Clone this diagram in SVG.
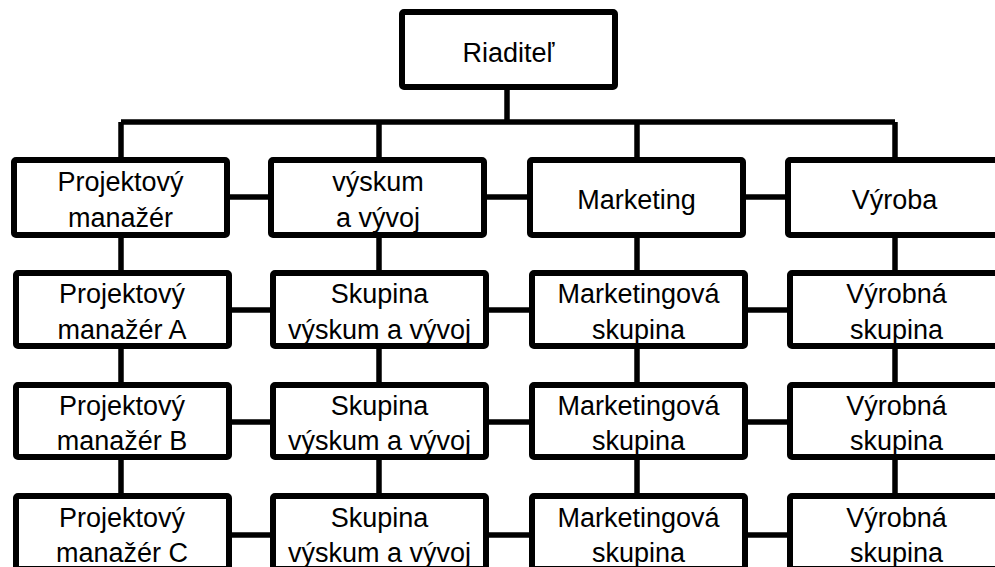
<svg xmlns="http://www.w3.org/2000/svg" width="995" height="567" viewBox="0 0 995 567">
<style>
.box{fill:#fff;stroke:#000;stroke-width:6}
.ln{stroke:#000;stroke-width:5.5;fill:none}
text{font-family:"Liberation Sans",Arial,sans-serif;font-size:27px;fill:#000;text-anchor:middle}
</style>
<rect width="995" height="567" fill="#fff"/>
<g id="connectors">
<line class="ln" x1="507" y1="88" x2="507" y2="122"/>
<line class="ln" x1="121" y1="122" x2="895" y2="122"/>
<line class="ln" x1="121" y1="122" x2="121" y2="540"/>
<line class="ln" x1="379" y1="122" x2="379" y2="540"/>
<line class="ln" x1="637" y1="122" x2="637" y2="540"/>
<line class="ln" x1="895" y1="122" x2="895" y2="540"/>
<line class="ln" x1="121" y1="197" x2="895" y2="197"/>
<line class="ln" x1="121" y1="310" x2="895" y2="310"/>
<line class="ln" x1="121" y1="422" x2="895" y2="422"/>
<line class="ln" x1="121" y1="535" x2="895" y2="535"/>
</g>
<g id="n-riaditel"><rect class="box" x="402" y="12" width="213" height="75" rx="2"/><text x="508.5" y="62">Riaditeľ</text></g>
<g id="n-pm"><rect class="box" x="14" y="160" width="213" height="75" rx="2"/><text x="120.5" y="191">Projektový</text><text x="120.5" y="226.5">manažér</text></g>
<g id="n-vv"><rect class="box" x="271" y="160" width="213" height="75" rx="2"/><text x="378" y="191">výskum</text><text x="378" y="226.5">a vývoj</text></g>
<g id="n-mk"><rect class="box" x="530" y="160" width="213" height="75" rx="2"/><text x="636.5" y="208.5">Marketing</text></g>
<g id="n-vy"><rect class="box" x="788" y="160" width="213" height="75" rx="2"/><text x="894.5" y="208.5">Výroba</text></g>
<g id="n-pma"><rect class="box" x="16" y="273" width="213" height="73" rx="2"/><text x="122" y="303">Projektový</text><text x="122" y="338.5">manažér A</text></g>
<g id="n-vv2"><rect class="box" x="273" y="273" width="213" height="73" rx="2"/><text x="379.5" y="303">Skupina</text><text x="379.5" y="338.5">výskum a vývoj</text></g>
<g id="n-mk2"><rect class="box" x="532" y="273" width="213" height="73" rx="2"/><text x="638.5" y="303">Marketingová</text><text x="638.5" y="338.5">skupina</text></g>
<g id="n-vy2"><rect class="box" x="790" y="273" width="213" height="73" rx="2"/><text x="896.5" y="303">Výrobná</text><text x="896.5" y="338.5">skupina</text></g>
<g id="n-pmb"><rect class="box" x="16" y="385" width="213" height="72" rx="2"/><text x="122" y="415">Projektový</text><text x="122" y="450">manažér B</text></g>
<g id="n-vv3"><rect class="box" x="273" y="385" width="213" height="72" rx="2"/><text x="379.5" y="415">Skupina</text><text x="379.5" y="450">výskum a vývoj</text></g>
<g id="n-mk3"><rect class="box" x="532" y="385" width="213" height="72" rx="2"/><text x="638.5" y="415">Marketingová</text><text x="638.5" y="450">skupina</text></g>
<g id="n-vy3"><rect class="box" x="790" y="385" width="213" height="72" rx="2"/><text x="896.5" y="415">Výrobná</text><text x="896.5" y="450">skupina</text></g>
<g id="n-pmc"><rect class="box" x="16" y="496" width="213" height="73" rx="2"/><text x="122" y="527">Projektový</text><text x="122" y="562">manažér C</text></g>
<g id="n-vv4"><rect class="box" x="273" y="496" width="213" height="73" rx="2"/><text x="379.5" y="527">Skupina</text><text x="379.5" y="562">výskum a vývoj</text></g>
<g id="n-mk4"><rect class="box" x="532" y="496" width="213" height="73" rx="2"/><text x="638.5" y="527">Marketingová</text><text x="638.5" y="562">skupina</text></g>
<g id="n-vy4"><rect class="box" x="790" y="496" width="213" height="73" rx="2"/><text x="896.5" y="527">Výrobná</text><text x="896.5" y="562">skupina</text></g>
</svg>
